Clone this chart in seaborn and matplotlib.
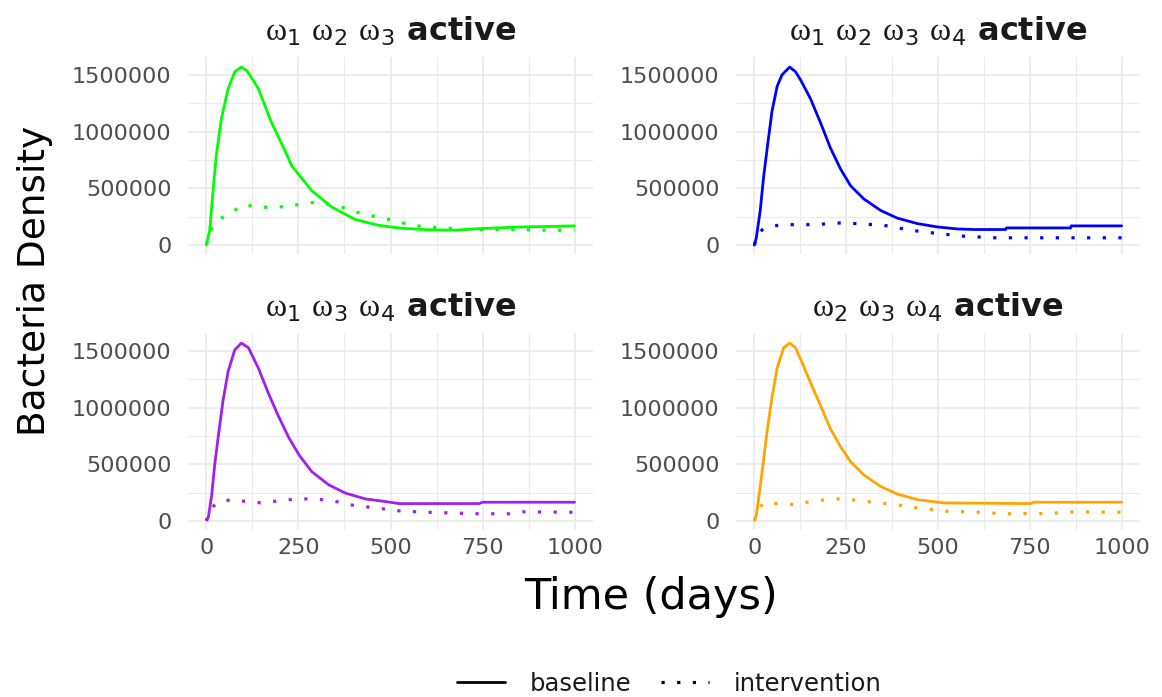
import numpy as np
import pandas as pd
import matplotlib
matplotlib.use("Agg")
import matplotlib.pyplot as plt
import seaborn as sns
from matplotlib.lines import Line2D

# ---------------- data ----------------
panel_titles = [r"$\mathrm{ω}_\mathsf{1}\ \mathrm{ω}_\mathsf{2}\ \mathrm{ω}_\mathsf{3}$ active",
                r"$\mathrm{ω}_\mathsf{1}\ \mathrm{ω}_\mathsf{2}\ \mathrm{ω}_\mathsf{3}\ \mathrm{ω}_\mathsf{4}$ active",
                r"$\mathrm{ω}_\mathsf{1}\ \mathrm{ω}_\mathsf{3}\ \mathrm{ω}_\mathsf{4}$ active",
                r"$\mathrm{ω}_\mathsf{2}\ \mathrm{ω}_\mathsf{3}\ \mathrm{ω}_\mathsf{4}$ active"]
panel_colors = ["#00FF00", "#0000FF", "#A020F0", "#FFA500"]

# panel 1 (w1 w2 w3)
p1_base_t = [0, 5, 9, 18, 27, 41, 59, 77, 95, 109, 118, 141, 177, 214, 232, 286, 341, 405, 468, 530,
             600, 677, 740, 859, 1000]
p1_base_v = [0, 73000, 131000, 480000, 800000, 1120000, 1380000, 1530000, 1570000, 1540000, 1500000,
             1380000, 1080000, 828000, 698000, 480000, 334000, 224000, 174000, 148000, 135000, 131000,
             145000, 160000, 169000]
p1_int_t = [0, 10, 23, 50, 105, 141, 195, 250, 295, 327, 368, 423, 486, 560, 595, 714, 832, 923, 1000]
p1_int_v = [0, 120000, 190000, 262000, 355000, 334000, 334000, 357000, 378000, 363000, 334000, 276000,
            233000, 174000, 160000, 137000, 137000, 131000, 131000]

# panel 2 (w1 w2 w3 w4)
p2_base_t = [0, 5, 16, 25, 35, 48, 62, 75, 96, 112, 127, 153, 180, 207, 235, 262, 298, 344, 389, 444,
             498, 553, 600, 684, 686, 861, 863, 1000]
p2_base_v = [0, 58000, 305000, 596000, 857000, 1180000, 1400000, 1500000, 1570000, 1530000, 1450000,
             1290000, 1080000, 857000, 669000, 523000, 407000, 305000, 238000, 189000, 160000, 142000,
             137000, 137000, 151000, 151000, 169000, 169000]
p2_int_t = [0, 10, 25, 71, 162, 235, 280, 353, 425, 498, 571, 653, 1000]
p2_int_v = [0, 100000, 145000, 180000, 180000, 195000, 189000, 174000, 131000, 102000, 78000, 64000, 64000]

# panel 3 (w1 w3 w4)
p3_base_t = [0, 5, 14, 23, 32, 45, 59, 77, 95, 114, 141, 168, 195, 223, 252, 286, 332, 377, 432, 486,
             523, 741, 750, 1000]
p3_base_v = [15000, 29000, 218000, 509000, 741000, 1060000, 1320000, 1510000, 1570000, 1530000, 1350000,
             1130000, 930000, 741000, 581000, 436000, 320000, 247000, 195000, 172000, 154000, 154000,
             166000, 166000]
p3_int_t = [0, 15, 32, 68, 105, 150, 186, 227, 268, 314, 350, 386, 459, 532, 614, 741, 823, 859, 1000]
p3_int_v = [0, 120000, 166000, 189000, 174000, 160000, 174000, 189000, 195000, 189000, 174000, 145000,
            116000, 87000, 76000, 64000, 64000, 81000, 78000]

# panel 4 (w2 w3 w4)
p4_base_t = [0, 5, 16, 25, 35, 48, 62, 80, 96, 112, 127, 153, 180, 207, 235, 262, 298, 344, 389, 444,
             480, 516, 753, 760, 1000]
p4_base_v = [10000, 44000, 305000, 538000, 800000, 1090000, 1350000, 1530000, 1570000, 1530000, 1420000,
             1220000, 1020000, 814000, 654000, 523000, 407000, 305000, 238000, 189000, 174000, 160000,
             154000, 166000, 166000]
p4_int_t = [0, 15, 25, 70, 107, 144, 180, 225, 262, 298, 371, 444, 516, 607, 680, 753, 807, 844, 1000]
p4_int_v = [0, 120000, 160000, 154000, 145000, 166000, 183000, 195000, 189000, 174000, 151000, 116000,
            87000, 78000, 64000, 67000, 64000, 81000, 78000]

x_ticks = [0, 250, 500, 750, 1000]
y_ticks = [0, 500000, 1000000, 1500000]
y_tick_labels = ["0", "500000", "1000000", "1500000"]

series = [
    (p1_base_t, p1_base_v, p1_int_t, p1_int_v),
    (p2_base_t, p2_base_v, p2_int_t, p2_int_v),
    (p3_base_t, p3_base_v, p3_int_t, p3_int_v),
    (p4_base_t, p4_base_v, p4_int_t, p4_int_v),
]

# ---------------- style ----------------
sns.set_theme(style="whitegrid")
plt.rcParams['font.family'] = ['DejaVu Sans']
plt.rcParams['mathtext.fontset'] = 'custom'
plt.rcParams['mathtext.rm'] = 'Liberation Serif'
plt.rcParams['mathtext.sf'] = 'DejaVu Sans'

W, H = 1162, 697
fig = plt.figure(figsize=(W / 100, H / 100), dpi=100)

# panel rectangles in pixels (left, top, right, bottom)
rects = [(188, 57, 593, 254), (736, 57, 1140, 254),
         (188, 333, 593, 530), (736, 333, 1140, 530)]

DOT = (0, (1.0, 3.9))

for i, (rect, title, color, (bt, bv, it, iv)) in enumerate(zip(rects, panel_titles, panel_colors, series)):
    l, t, r, b = rect
    ax = fig.add_axes([l / W, 1 - b / H, (r - l) / W, (b - t) / H])
    df = pd.concat([
        pd.DataFrame({"time": bt, "density": bv, "scenario": "baseline"}),
        pd.DataFrame({"time": it, "density": iv, "scenario": "intervention"}),
    ])
    sns.lineplot(data=df[df.scenario == "baseline"], x="time", y="density", color=color,
                 linewidth=2.0, ax=ax, legend=False)
    sns.lineplot(data=df[df.scenario == "intervention"], x="time", y="density", color=color,
                 linewidth=2.3, ax=ax, legend=False, linestyle=DOT)
    ax.set_xlim(-50, 1050)
    ax.set_ylim(-79000, 1659000)
    ax.set_xticks(x_ticks)
    ax.set_xticks([125, 375, 625, 875], minor=True)
    ax.set_yticks(y_ticks)
    ax.set_yticks([250000, 750000, 1250000], minor=True)
    ax.set_yticklabels(y_tick_labels)
    ax.grid(which="major", color="#EBEBEB", linewidth=1.3)
    ax.grid(which="minor", color="#EBEBEB", linewidth=0.8)
    ax.set_axisbelow(True)
    for s in ax.spines.values():
        s.set_visible(False)
    ax.tick_params(axis="both", which="both", length=0, labelsize=16, colors="#4D4D4D")
    ax.tick_params(axis="y", pad=12)
    ax.tick_params(axis="x", pad=6)
    if i < 2:
        ax.set_xticklabels([])
    ax.set_xlabel("")
    ax.set_ylabel("")
    ax.set_title(title, fontsize=23, fontweight="bold", color="#1A1A1A", pad=12)

fig.text(35 / W, 1 - 281 / H, "Bacteria Density", rotation=90, fontsize=27,
         ha="center", va="center", color="black")
fig.text(651 / W, 1 - 597 / H, "Time (days)", fontsize=31, ha="center", va="center", color="black")

handles = [Line2D([], [], color="black", linewidth=2.0),
           Line2D([], [], color="black", linewidth=2.3, linestyle=DOT)]
fig.legend(handles, ["baseline", "intervention"], loc="center", bbox_to_anchor=(669 / W, 1 - 684 / H),
           ncol=2, frameon=False, fontsize=17.5, handlelength=2.0, columnspacing=1.2, handletextpad=1.0,
           labelcolor="#1A1A1A")

fig.savefig("out.png", dpi=100)
